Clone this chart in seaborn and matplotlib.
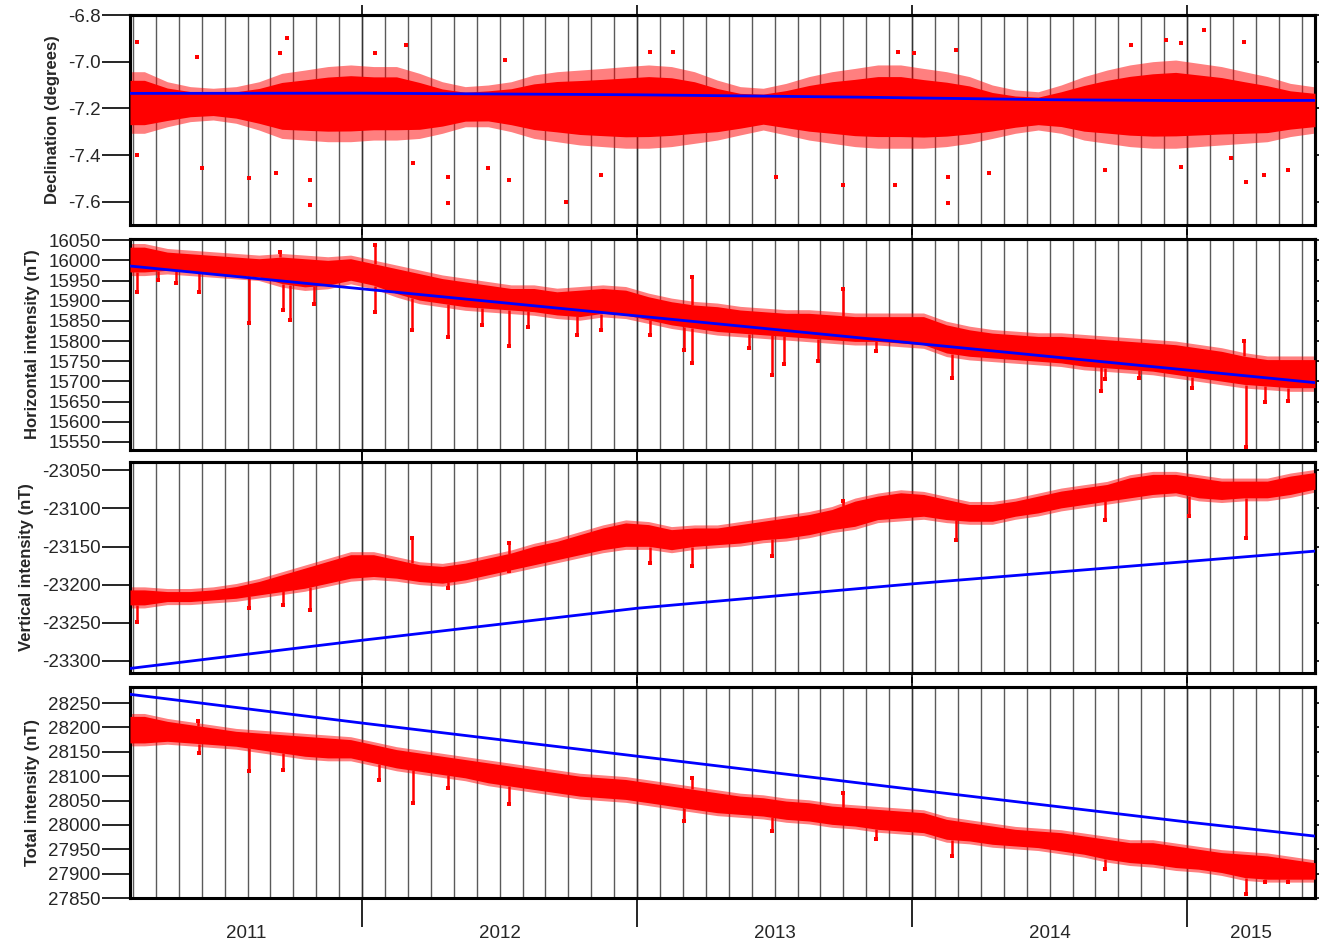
import numpy as np
import pandas as pd
import matplotlib
matplotlib.use("Agg")
import matplotlib.pyplot as plt
import seaborn as sns

# ---------------- data ----------------
months = pd.period_range("2011-03", "2015-06", freq="M")  # 52 monthly samples (mid-month)
x_start, x_end = 2011.156, 2015.465
year_labels = ["2011", "2012", "2013", "2014", "2015"]

decl_upper = [-7.043, -7.086, -7.107, -7.114, -7.107, -7.086, -7.050, -7.036, -7.021, -7.014,
              -7.021, -7.021, -7.050, -7.086, -7.107, -7.100, -7.086, -7.057, -7.043, -7.036,
              -7.029, -7.021, -7.014, -7.021, -7.043, -7.079, -7.107, -7.114, -7.093, -7.064,
              -7.043, -7.029, -7.014, -7.014, -7.029, -7.043, -7.064, -7.100, -7.121, -7.129,
              -7.100, -7.064, -7.036, -7.014, -7.000, -6.993, -7.007, -7.021, -7.043, -7.064,
              -7.093, -7.107]
decl_lower = [-7.307, -7.279, -7.257, -7.250, -7.264, -7.293, -7.329, -7.336, -7.343, -7.343,
              -7.336, -7.336, -7.329, -7.307, -7.279, -7.279, -7.300, -7.329, -7.343, -7.357,
              -7.364, -7.371, -7.371, -7.364, -7.350, -7.336, -7.314, -7.293, -7.314, -7.336,
              -7.350, -7.364, -7.371, -7.371, -7.371, -7.364, -7.350, -7.329, -7.307, -7.293,
              -7.307, -7.336, -7.350, -7.364, -7.371, -7.371, -7.364, -7.357, -7.350, -7.343,
              -7.321, -7.307]
decl_spike_t = [2011.181, 2011.728, 2011.700, 2012.047, 2012.158, 2011.400, 2012.519, 2013.047,
                2013.131, 2013.950, 2014.006, 2014.158, 2014.797, 2014.922, 2014.978, 2015.061,
                2015.208, 2011.181, 2011.417, 2011.589, 2011.686, 2011.811, 2011.811, 2012.311,
                2012.311, 2012.533, 2012.742, 2012.867, 2013.506, 2013.747, 2013.936, 2014.131,
                2014.131, 2014.278, 2014.700, 2015.214, 2015.367, 2015.278, 2014.978, 2015.158,
                2012.186, 2012.458]
decl_spike_v = [-6.914, -6.900, -6.964, -6.964, -6.929, -6.979, -6.993, -6.957,
                -6.957, -6.957, -6.964, -6.950, -6.929, -6.907, -6.921, -6.864,
                -6.914, -7.400, -7.457, -7.500, -7.479, -7.507, -7.614, -7.607,
                -7.493, -7.507, -7.600, -7.486, -7.493, -7.529, -7.529, -7.493,
                -7.604, -7.479, -7.464, -7.514, -7.464, -7.486, -7.450, -7.414,
                -7.436, -7.457]
decl_fit_t = [2011.156, 2012.0, 2013.0, 2013.8, 2014.5, 2015.0, 2015.465]
decl_fit_v = [-7.136, -7.135, -7.142, -7.152, -7.163, -7.167, -7.166]

h_upper = [16032.8, 16020.5, 16016.4, 16012.3, 16008.2, 16004.1, 16008.2, 16004.1, 16000.0, 16004.1,
           15991.8, 15979.5, 15967.2, 15954.9, 15946.7, 15938.5, 15930.3, 15930.3, 15922.1, 15926.2,
           15930.3, 15926.2, 15909.8, 15897.5, 15889.3, 15885.2, 15877.0, 15872.9, 15868.8, 15868.8,
           15864.8, 15860.6, 15860.6, 15860.6, 15860.6, 15840.2, 15827.9, 15819.7, 15815.6, 15811.5,
           15811.5, 15807.4, 15803.3, 15799.2, 15795.1, 15791.0, 15782.8, 15774.6, 15762.3, 15754.1,
           15754.1, 15754.1]
h_lower = [15971.3, 15975.4, 15971.3, 15967.2, 15963.1, 15959.0, 15942.6, 15934.4, 15938.5, 15950.8,
           15938.5, 15918.0, 15901.6, 15893.4, 15885.2, 15881.1, 15877.0, 15872.9, 15864.8, 15860.6,
           15868.8, 15864.8, 15852.5, 15840.2, 15832.0, 15823.8, 15819.7, 15815.6, 15811.5, 15807.4,
           15803.3, 15799.2, 15799.2, 15795.1, 15791.0, 15770.5, 15762.3, 15758.2, 15754.1, 15750.0,
           15745.9, 15737.7, 15733.6, 15729.5, 15725.4, 15717.2, 15709.0, 15700.8, 15692.6, 15688.5,
           15684.4, 15684.4]
h_spike_t = [2011.181, 2011.256, 2011.325, 2011.408, 2011.589, 2011.714, 2011.736, 2011.825,
             2012.047, 2012.181, 2012.311, 2012.436, 2012.533, 2012.603, 2012.783, 2012.867,
             2013.047, 2013.172, 2013.200, 2013.408, 2013.492, 2013.533, 2013.658, 2013.867,
             2014.144, 2014.686, 2014.700, 2014.825, 2015.019, 2015.214, 2015.283, 2015.367,
             2012.047, 2013.200, 2013.747, 2015.208, 2011.700]
h_spike_v = [15922, 15951, 15943, 15922, 15844, 15877, 15852, 15893,
             15873, 15828, 15811, 15840, 15787, 15836, 15816, 15828,
             15816, 15779, 15746, 15783, 15717, 15742, 15750, 15775,
             15709, 15676, 15705, 15709, 15684, 15537, 15648, 15652,
             16037, 15959, 15930, 15799, 16020]
h_fit_t = [2011.156, 2015.465]
h_fit_v = [15986, 15697]

z_upper = [-23206.9, -23209.1, -23209.1, -23206.9, -23202.5, -23195.9, -23187.1, -23178.3, -23169.5, -23160.7,
           -23160.7, -23167.3, -23173.9, -23176.1, -23171.7, -23165.1, -23158.5, -23149.7, -23143.2, -23134.4,
           -23125.6, -23119.0, -23121.2, -23127.8, -23125.6, -23125.6, -23121.2, -23116.8, -23112.4, -23108.0,
           -23101.4, -23090.4, -23083.8, -23079.4, -23081.6, -23088.2, -23094.8, -23094.8, -23090.4, -23083.8,
           -23077.2, -23072.8, -23068.5, -23059.7, -23055.3, -23055.3, -23059.7, -23064.1, -23064.1, -23064.1,
           -23057.5, -23053.1]
z_lower = [-23226.6, -23222.2, -23222.2, -23220.0, -23217.9, -23213.5, -23209.1, -23204.7, -23198.1, -23191.5,
           -23189.3, -23191.5, -23195.9, -23198.1, -23193.7, -23187.1, -23180.5, -23173.9, -23167.3, -23160.7,
           -23154.1, -23149.7, -23149.7, -23154.1, -23149.7, -23147.5, -23145.4, -23141.0, -23138.8, -23134.4,
           -23127.8, -23123.4, -23114.6, -23112.4, -23110.2, -23114.6, -23116.8, -23116.8, -23110.2, -23105.8,
           -23099.2, -23094.8, -23090.4, -23086.0, -23081.6, -23079.4, -23086.0, -23088.2, -23086.0, -23086.0,
           -23081.6, -23075.0]
z_spike_t = [2011.181, 2011.589, 2011.714, 2011.811, 2012.311, 2012.533, 2013.047, 2013.200,
             2013.492, 2014.158, 2014.700, 2015.006, 2015.214, 2012.181, 2012.533, 2013.747]
z_spike_v = [-23248.6, -23231.0, -23226.6, -23233.0, -23204.7, -23182.7, -23171.7, -23176.1,
             -23163.0, -23141.0, -23114.6, -23110.2, -23138.8, -23138.8, -23145.4, -23090.4]
z_fit_t = [2011.156, 2012.0, 2013.0, 2014.0, 2015.465]
z_fit_v = [-23310, -23273, -23231, -23199, -23156]

f_upper = [28222.7, 28212.5, 28205.7, 28198.9, 28192.0, 28188.6, 28185.2, 28181.8, 28178.4, 28175.0,
           28164.8, 28154.5, 28147.7, 28140.9, 28134.1, 28127.3, 28120.5, 28113.6, 28106.8, 28100.0,
           28096.6, 28093.2, 28086.4, 28079.5, 28072.7, 28065.9, 28059.1, 28055.7, 28048.9, 28045.5,
           28038.6, 28035.2, 28031.8, 28028.4, 28025.0, 28011.4, 28004.5, 27997.7, 27990.9, 27987.5,
           27984.1, 27977.3, 27970.5, 27963.6, 27963.6, 27956.8, 27950.0, 27943.2, 27939.8, 27936.4,
           27929.6, 27922.7]
f_lower = [28168.2, 28171.6, 28168.2, 28164.8, 28161.4, 28154.5, 28147.7, 28140.9, 28137.5, 28137.5,
           28127.3, 28117.0, 28110.2, 28103.4, 28096.6, 28086.4, 28079.5, 28072.7, 28065.9, 28059.1,
           28055.7, 28052.3, 28045.5, 28038.6, 28031.8, 28025.0, 28021.6, 28018.2, 28011.4, 28008.0,
           28001.1, 27997.7, 27990.9, 27987.5, 27984.1, 27970.5, 27967.1, 27960.2, 27956.8, 27953.4,
           27946.6, 27939.8, 27929.6, 27922.7, 27919.3, 27912.5, 27909.1, 27902.3, 27892.1, 27888.6,
           27888.6, 27888.6]
f_spike_t = [2011.408, 2011.589, 2011.714, 2012.061, 2012.186, 2012.311, 2012.533, 2013.172,
             2013.492, 2013.867, 2014.144, 2014.700, 2015.214, 2015.283, 2015.367,
             2011.403, 2013.200, 2013.747]
f_spike_v = [28147.7, 28110.0, 28113.6, 28093.0, 28045.5, 28076.0, 28042.0, 28008.0,
             27987.5, 27970.5, 27936.4, 27909.0, 27858.0, 27882.0, 27882.0,
             28212.5, 28096.6, 28066.0]
f_fit_t = [2011.156, 2012.0, 2013.0, 2014.0, 2015.0, 2015.465]
f_fit_v = [28268, 28209, 28141, 28073, 28006, 27977]

# core = fraction of the envelope drawn solid; pad = sparse fringe (drawing style)
panels = [
    dict(label="Declination (degrees)", up=decl_upper, lo=decl_lower, st=decl_spike_t, sv=decl_spike_v,
         ft=decl_fit_t, fv=decl_fit_v, ticks=[-6.8, -7.0, -7.2, -7.4, -7.6], fmt="{:.1f}",
         ylim=(-7.7, -6.8), core=0.72, pad=0.0, fringe=0.5),
    dict(label="Horizontal intensity (nT)", up=h_upper, lo=h_lower, st=h_spike_t, sv=h_spike_v,
         ft=h_fit_t, fv=h_fit_v, ticks=list(range(15550, 16051, 50)), fmt="{:d}",
         ylim=(15530, 16053), core=1.0, pad=9.0, fringe=0.5),
    dict(label="Vertical intensity (nT)", up=z_upper, lo=z_lower, st=z_spike_t, sv=z_spike_v,
         ft=z_fit_t, fv=z_fit_v, ticks=list(range(-23300, -23049, 50)), fmt="{:d}",
         ylim=(-23316, -23039), core=1.0, pad=4.0, fringe=0.5),
    dict(label="Total intensity (nT)", up=f_upper, lo=f_lower, st=f_spike_t, sv=f_spike_v,
         ft=f_fit_t, fv=f_fit_v, ticks=list(range(27850, 28251, 50)), fmt="{:d}",
         ylim=(27850, 28283), core=1.0, pad=6.0, fringe=0.5),
]

# ---------------- styling ----------------
sns.set_theme(style="white")
plt.rcParams["font.family"] = ["Liberation Sans", "DejaVu Sans"]
plt.rcParams["axes.unicode_minus"] = False

W, H = 1325, 952
fig = plt.figure(figsize=(W / 100, H / 100), dpi=100)
left, right = 130 / W, 1315 / W
boxes = [(15, 225), (239, 450), (462, 673), (687, 898)]

t_mid = np.array([m.start_time.year + (m.start_time.month - 0.5) / 12 for m in months])
t_fill = np.concatenate([[x_start], t_mid, [x_end]])
month_lines = [y + m / 12 for y in range(2011, 2016) for m in range(12)
               if x_start < y + m / 12 < x_end]
year_lines = [2012, 2013, 2014, 2015]

RED = "#ff0000"
BLUE = "#0000ff"

for i, (p, (top, bot)) in enumerate(zip(panels, boxes)):
    ax = fig.add_axes([left, 1 - bot / H, right - left, (bot - top) / H])
    up = np.array(p["up"]); lo = np.array(p["lo"])
    up_f = np.concatenate([[up[0]], up, [up[-1]]])
    lo_f = np.concatenate([[lo[0]], lo, [lo[-1]]])
    mid = (up_f + lo_f) / 2
    half = (up_f - lo_f) / 2 * p["core"]
    # month grid
    for xm in month_lines:
        ax.axvline(xm, color="#5a5a5a", lw=1.0, zorder=1)
    for xm in year_lines:
        ax.axvline(xm, color="#333333", lw=1.0, zorder=1)
    # red observations: sparse fringe + dense core
    ax.fill_between(t_fill, lo_f - p["pad"], up_f + p["pad"], color=RED,
                    alpha=p["fringe"], lw=0, zorder=2)
    ax.fill_between(t_fill, mid - half, mid + half, color=RED, lw=0, zorder=3)
    # spikes
    st = np.array(p["st"]); sv = np.array(p["sv"])
    up_i = np.interp(st, t_fill, mid + half); lo_i = np.interp(st, t_fill, mid - half)
    base = np.where(sv > up_i, up_i, lo_i)
    if i == 0:
        sns.scatterplot(x=st, y=sv, ax=ax, color=RED, marker="s", s=7, linewidth=0, zorder=4)
    else:
        ax.vlines(st, base, sv, color=RED, lw=1.8, zorder=4)
        sns.scatterplot(x=st, y=sv, ax=ax, color=RED, marker="s", s=5, linewidth=0, zorder=4)
    # blue reference line
    sns.lineplot(x=p["ft"], y=p["fv"], ax=ax, color=BLUE, lw=2.0, zorder=5,
                 estimator=None, sort=True)

    ax.set_xlim(x_start, x_end)
    ax.set_ylim(*p["ylim"])
    ax.set_yticks(p["ticks"])
    ax.set_yticklabels([p["fmt"].format(t) for t in p["ticks"]], fontsize=13.5)
    ax.tick_params(axis="y", which="major", direction="out", length=20, width=1.2,
                   pad=1, left=True, right=False, color="black")
    sec_y = ax.secondary_yaxis("right")
    sec_y.set_yticks(p["ticks"])
    sec_y.set_yticklabels([])
    sec_y.tick_params(direction="out", length=3, width=1.2, color="black")
    sec_y.spines["right"].set_linewidth(2.2)

    ax.set_xticks(year_lines)
    ax.set_xticklabels([])
    ax.tick_params(axis="x", which="major", direction="out", width=1.2, top=False, bottom=True,
                   length=21 if i == 3 else 7, color="black")
    sec_x = ax.secondary_xaxis("top")
    sec_x.set_xticks(year_lines)
    sec_x.set_xticklabels([])
    sec_x.tick_params(direction="out", length=7, width=1.2, color="black")
    sec_x.spines["top"].set_linewidth(2.2)
    ax.set_ylabel(p["label"], fontsize=12, fontweight="bold", labelpad=6)
    ax.set_xlabel("")
    for s in ax.spines.values():
        s.set_linewidth(2.2)
        s.set_color("black")
    ax.grid(False)
    if i == 3:
        bounds = [x_start, 2012, 2013, 2014, 2015, x_end]
        for lab, a, b in zip(year_labels, bounds[:-1], bounds[1:]):
            ax.text((a + b) / 2, -0.17, lab, transform=ax.get_xaxis_transform(),
                    ha="center", va="center", fontsize=13.5)

fig.savefig("out.png", dpi=100)
